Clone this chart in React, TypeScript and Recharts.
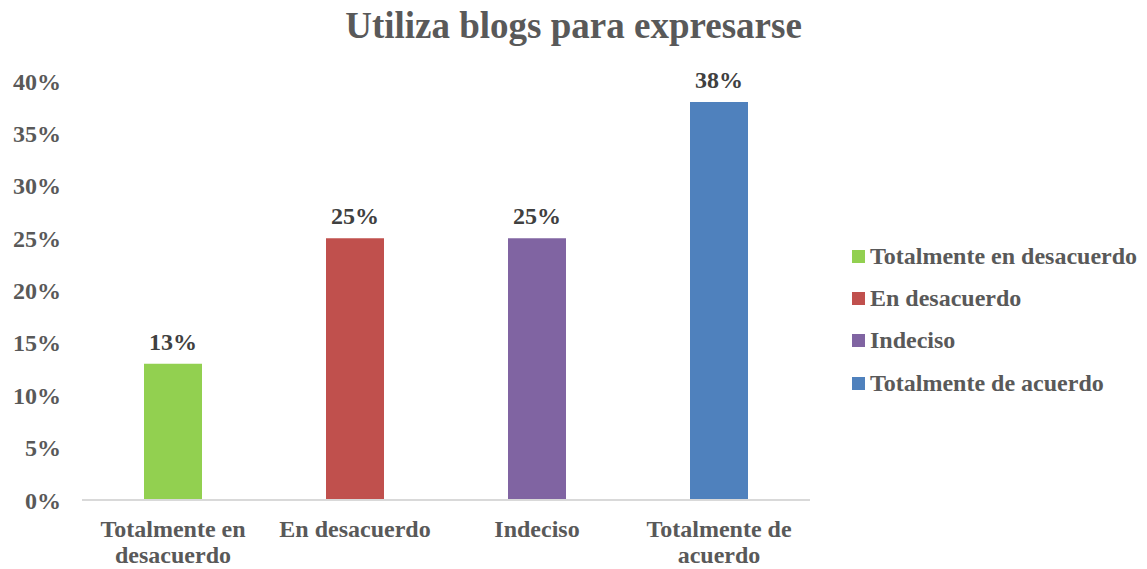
import React from 'react';
import { BarChart, Bar, XAxis, YAxis, Cell, LabelList } from 'recharts';

const categories = ['Totalmente en desacuerdo', 'En desacuerdo', 'Indeciso', 'Totalmente de acuerdo'];
const shares = [0.13, 0.25, 0.25, 0.38];
const barColors = ['#92D050', '#C0504D', '#8064A2', '#4F81BD'];
const yTicks = [0, 0.05, 0.1, 0.15, 0.2, 0.25, 0.3, 0.35, 0.4];

const data = categories.map((name, i) => ({ name, value: shares[i] }));

const FONT = '"Liberation Serif", "Times New Roman", serif';
const GREY = '#595959';

const pct = (v: number) => `${Math.round(v * 100)}%`;

function CategoryTick(props: any) {
  const { x, y, payload } = props;
  const words = String(payload.value).split(' ');
  // break into two lines once it gets too long, like Excel does
  const lines: string[] = [];
  let cur = '';
  words.forEach((w) => {
    const next = cur ? cur + ' ' + w : w;
    if (next.length > 14 && cur) {
      lines.push(cur);
      cur = w;
    } else {
      cur = next;
    }
  });
  if (cur) lines.push(cur);
  return (
    <text x={x} y={y} textAnchor="middle" fill={GREY} fontFamily={FONT} fontWeight="bold" fontSize={24}>
      {lines.map((l, i) => (
        <tspan key={i} x={x} dy={i === 0 ? 29 : 26}>{l}</tspan>
      ))}
    </text>
  );
}

function SideLegend() {
  return (
    <div style={{ position: 'absolute', left: 852, top: 235, fontFamily: FONT, fontWeight: 'bold', fontSize: 24, color: GREY }}>
      {categories.map((c, i) => (
        <div key={c} style={{ display: 'flex', alignItems: 'center', height: 42.3 }}>
          <span style={{ width: 13, height: 13, background: barColors[i], marginRight: 5, display: 'inline-block' }} />
          <span>{c}</span>
        </div>
      ))}
    </div>
  );
}

export default function App() {
  return (
    <div style={{ position: 'absolute', left: 0, top: 0, width: 1147, height: 569, background: '#fff' }}>
      <div style={{ position: 'absolute', left: 0, width: 1147, top: 4, textAlign: 'center',
        fontFamily: FONT, fontWeight: 'bold', fontSize: 37, color: GREY }}>
        Utiliza blogs para expresarse
      </div>
      <BarChart width={1147} height={569} data={data} margin={{ top: 81, right: 337, bottom: 0, left: 12 }}>
        <XAxis dataKey="name" height={69} axisLine={{ stroke: '#D9D9D9', strokeWidth: 2 }} tickLine={false} tick={<CategoryTick />} interval={0} />
        <YAxis domain={[0, 0.4]} ticks={yTicks} tickFormatter={pct} width={70} axisLine={false} tickLine={false}
          tickSize={0} tickMargin={21}
          tick={{ fill: GREY, fontFamily: FONT, fontWeight: 'bold', fontSize: 24 }} />
        <Bar dataKey="value" barSize={58} isAnimationActive={false}>
          {data.map((d, i) => <Cell key={d.name} fill={barColors[i]} />)}
          <LabelList dataKey="value" position="top" offset={14} formatter={(v: any) => pct(Number(v))}
            style={{ fill: '#404040', fontFamily: FONT, fontWeight: 'bold', fontSize: 24 }} />
        </Bar>
      </BarChart>
      <SideLegend />
    </div>
  );
}
